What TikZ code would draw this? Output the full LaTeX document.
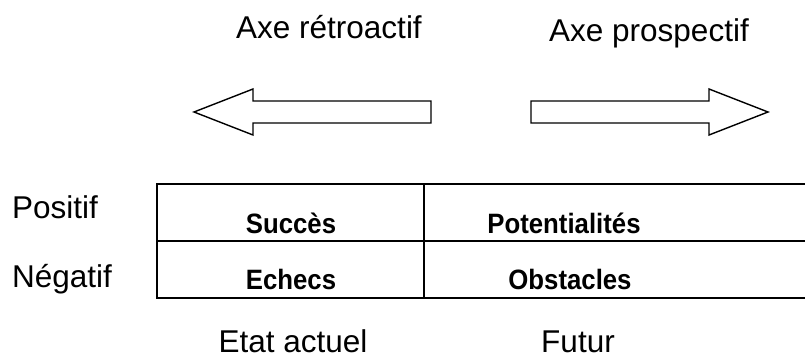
\documentclass[tikz,border=0pt]{standalone}
\usepackage{graphicx}
\usepackage{fontspec}
\setmainfont{Liberation Sans}
% bold cell text, set slightly narrow
\newcommand\celltext[1]{\scalebox{0.92}[1]{#1}}
\begin{document}
\begin{tikzpicture}[x=1pt,y=-1pt,
  lbl/.style={anchor=base,inner sep=0pt,font=\fontsize{31.5}{36}\selectfont},
  cell/.style={anchor=base,inner sep=0pt,font=\fontsize{28}{32}\selectfont\bfseries},
  grid/.style={line width=2pt},
  axis/.style={line width=1.4pt,line join=miter}]
\useasboundingbox (0,0) rectangle (805,358);
% axis captions
\node[lbl] (retro) at (329,39) {Axe rétroactif};
\node[lbl] (prosp) at (649,42) {Axe prospectif};
% block arrows
\draw[axis] (431,101) -- (253,101) -- (253,89) -- (194,112) -- (253,135) -- (253,123) -- (431,123) -- cycle;
\draw[axis] (531,101) -- (709,101) -- (709,89) -- (768,112) -- (709,135) -- (709,123) -- (531,123) -- cycle;
% row labels
\node[lbl,anchor=base west] (pos) at (12,218) {Positif};
\node[lbl,anchor=base west] (neg) at (12,287) {Négatif};
% table, open on the right
\coordinate (tl) at (157,184);
\coordinate (ml) at (157,241);
\coordinate (bl) at (157,298);
\draw[grid] (810,184) -- (tl) -- (bl) -- (810,298);
\draw[grid] (ml) -- (810,241);
\draw[grid] (424,184) -- (424,298);
\node[cell] (succ) at (291,233) {\celltext{Succès}};
\node[cell] (pote) at (564,233) {\celltext{Potentialités}};
\node[cell] (eche) at (291,289) {\celltext{Echecs}};
\node[cell] (obst) at (570,289) {\celltext{Obstacles}};
% column captions
\node[lbl] (etat) at (293,352) {Etat actuel};
\node[lbl] (futur) at (578,352) {Futur};
\end{tikzpicture}
\end{document}
